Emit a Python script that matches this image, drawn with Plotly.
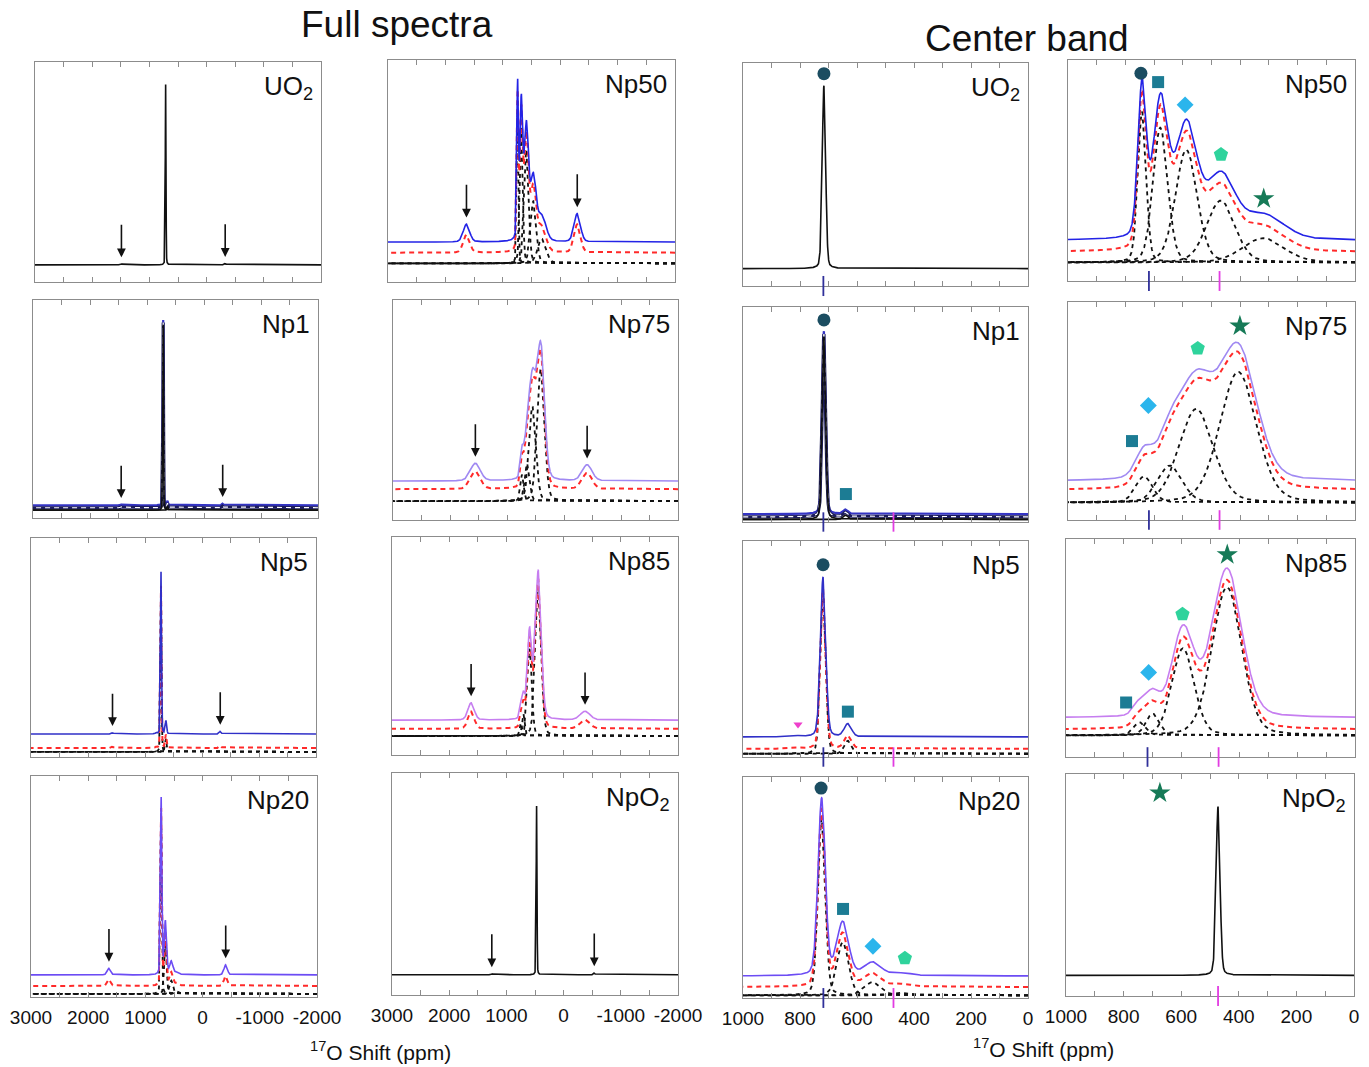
import numpy as np
import plotly.graph_objects as go

W, H = 1369, 1067

# ---------------- axis ticks ----------------
FULL_TICKVALS = [3000, 2000, 1000, 0, -1000, -2000]
FULL_TICKTEXT = ["3000", "2000", "1000", "0", "-1000", "-2000"]
FULL_MINOR = [2500, 1500, 500, -500, -1500]
CB_TICKVALS = [1000, 800, 600, 400, 200, 0]
CB_TICKTEXT = ["1000", "800", "600", "400", "200", "0"]
CB_MINOR = [900, 700, 500, 300, 100]

SAMPLES = ["UO2", "Np1", "Np5", "Np20", "Np50", "Np75", "Np85", "NpO2"]
SAMPLE_LABELS = ["UO<sub>2</sub>", "Np1", "Np5", "Np20", "Np50", "Np75", "Np85", "NpO<sub>2</sub>"]

# ---------------- center-band components: shift (ppm), normalised intensity, FWHM (ppm) ----------------
UO2_POS, UO2_AMP, UO2_FWHM = [716], [0.82], [14]
NP1_POS, NP1_AMP, NP1_FWHM = [716, 640], [0.85, 0.02], [14, 20]
NP5_POS, NP5_AMP, NP5_FWHM = [719, 632, 807], [0.74, 0.06, 0.004], [22, 30, 30]
NP20_POS, NP20_AMP, NP20_FWHM = [724, 650, 545, 440], [0.80, 0.24, 0.06, 0.012], [30, 48, 70, 80]
NP50_POS, NP50_AMP, NP50_FWHM = [742, 678, 588, 468, 320], [0.68, 0.61, 0.51, 0.28, 0.11], [34, 60, 88, 115, 170]
NP75_POS, NP75_AMP, NP75_FWHM = [735, 645, 553, 407], [0.12, 0.17, 0.43, 0.60], [70, 100, 140, 150]
NP85_POS, NP85_AMP, NP85_FWHM = [745, 700, 595, 443], [0.06, 0.10, 0.40, 0.68], [50, 55, 90, 120]
NPO2_POS, NPO2_AMP, NPO2_FWHM = [472], [0.76], [16]

# ---------------- spinning sidebands (full spectra, marked by arrows) ----------------
UO2_SB_POS, UO2_SB_AMP, UO2_SB_FWHM = [1489, -325], [0.004, 0.006], [30, 30]
NP1_SB_POS, NP1_SB_AMP, NP1_SB_FWHM = [1453, -328], [0.004, 0.008], [30, 30]
NP5_SB_POS, NP5_SB_AMP, NP5_SB_FWHM = [1570, -320], [0.006, 0.012], [40, 40]
NP20_SB_POS, NP20_SB_AMP, NP20_SB_FWHM = [1637, -404], [0.03, 0.045], [70, 70]
NP50_SB_POS, NP50_SB_AMP, NP50_SB_FWHM = [1633, -297], [0.08, 0.127], [130, 130]
NP75_SB_POS, NP75_SB_AMP, NP75_SB_FWHM = [1555, -406], [0.08, 0.073], [200, 200]
NP85_SB_POS, NP85_SB_AMP, NP85_SB_FWHM = [1617, -375], [0.079, 0.04], [130, 200]
NPO2_SB_POS, NPO2_SB_AMP, NPO2_SB_FWHM = [1255, -536], [0.004, 0.008], [30, 30]

# ---------------- stacking offsets (experimental, fit, components) ----------------
FULL_BASE_EXP = [0.078, 0.058, 0.105, 0.100, 0.180, 0.177, 0.160, 0.091]
FULL_BASE_FIT = [None, 0.047, 0.041, 0.050, 0.132, 0.140, 0.120, None]
FULL_BASE_CMP = [None, 0.036, 0.023, 0.014, 0.084, 0.086, 0.087, None]
CB_BASE_EXP = [0.078, 0.037, 0.093, 0.100, 0.184, 0.178, 0.180, 0.093]
CB_BASE_FIT = [None, 0.024, 0.038, 0.050, 0.132, 0.137, 0.126, None]
CB_BASE_CMP = [None, 0.012, 0.015, 0.012, 0.084, 0.080, 0.099, None]

# ---------------- site markers on the center band ----------------
UO2_MK_SYM, UO2_MK_PPM, UO2_MK_INT = ["circle"], [716], [0.952]
NP1_MK_SYM, NP1_MK_PPM, NP1_MK_INT = ["circle", "square"], [716, 639], [0.94, 0.13]
NP5_MK_SYM, NP5_MK_PPM, NP5_MK_INT = ["circle", "square", "triangle-down"], [719, 632, 807], [0.89, 0.21, 0.15]
NP20_MK_SYM = ["circle", "square", "diamond", "pentagon"]
NP20_MK_PPM, NP20_MK_INT = [726, 649, 544, 432], [0.95, 0.403, 0.234, 0.18]
NP50_MK_SYM = ["circle", "square", "diamond", "pentagon", "star"]
NP50_MK_PPM, NP50_MK_INT = [746, 686, 592, 467, 318], [0.94, 0.90, 0.797, 0.572, 0.372]
NP75_MK_SYM = ["square", "diamond", "pentagon", "star"]
NP75_MK_PPM, NP75_MK_INT = [777, 720, 548, 401], [0.362, 0.525, 0.787, 0.89]
NP85_MK_SYM = ["square", "diamond", "pentagon", "star"]
NP85_MK_PPM, NP85_MK_INT = [792, 714, 597, 442], [0.25, 0.388, 0.655, 0.928]
NPO2_MK_SYM, NPO2_MK_PPM, NPO2_MK_INT = ["star"], [674], [0.915]

# reference shifts marked under the center band
REF_SHIFT_BLUE = 718
REF_SHIFT_MAGENTA = 472
CB_REF_MARKS = [["b"], ["b", "m"], ["b", "m"], ["b", "m"], ["b", "m"], ["b", "m"], ["b", "m"], ["m"]]

# ---------------- styles ----------------
EXP_COLORS = ["#111111", "#3434c4", "#3030c8", "#6c4cf4", "#2323e6", "#a089f2", "#c67ef0", "#111111"]
FIT_COLOR = "#ff2a2a"
CMP_COLOR = "#111111"
MK_COLORS = {"circle": "#1b4d61", "square": "#1c7c94", "diamond": "#2bb5ec",
             "pentagon": "#2fd39c", "star": "#167a57", "triangle-down": "#ee3fcb"}
MK_SIZES = {"circle": 13, "square": 12, "diamond": 13, "pentagon": 15, "star": 16, "triangle-down": 8}
REF_COLORS = {"b": "#30309a", "m": "#e23ce2"}
FONT = "Liberation Sans, Arial, sans-serif"
FRAME = "#8c8c8c"
ETA = 0.2

# panel boxes in pixels (left, right, top, bottom)
FULL_BOXES = [(35, 321, 62, 282), (33, 318, 300, 518), (31, 316, 538, 757), (31, 317, 776, 997),
              (388, 675, 60, 282), (393, 678, 300, 520), (392, 678, 537, 755), (392, 678, 773, 995)]
CB_BOXES = [(743, 1028, 63, 286), (743, 1028, 307, 522), (743, 1028, 541, 757), (743, 1028, 777, 998),
            (1068, 1355, 60, 281), (1068, 1355, 302, 520), (1066, 1355, 539, 757), (1066, 1354, 774, 996)]
BOTTOM_ROW = {"Np20", "NpO2"}

DATA = {
    "UO2": (UO2_POS, UO2_AMP, UO2_FWHM, UO2_SB_POS, UO2_SB_AMP, UO2_SB_FWHM, UO2_MK_SYM, UO2_MK_PPM, UO2_MK_INT),
    "Np1": (NP1_POS, NP1_AMP, NP1_FWHM, NP1_SB_POS, NP1_SB_AMP, NP1_SB_FWHM, NP1_MK_SYM, NP1_MK_PPM, NP1_MK_INT),
    "Np5": (NP5_POS, NP5_AMP, NP5_FWHM, NP5_SB_POS, NP5_SB_AMP, NP5_SB_FWHM, NP5_MK_SYM, NP5_MK_PPM, NP5_MK_INT),
    "Np20": (NP20_POS, NP20_AMP, NP20_FWHM, NP20_SB_POS, NP20_SB_AMP, NP20_SB_FWHM, NP20_MK_SYM, NP20_MK_PPM, NP20_MK_INT),
    "Np50": (NP50_POS, NP50_AMP, NP50_FWHM, NP50_SB_POS, NP50_SB_AMP, NP50_SB_FWHM, NP50_MK_SYM, NP50_MK_PPM, NP50_MK_INT),
    "Np75": (NP75_POS, NP75_AMP, NP75_FWHM, NP75_SB_POS, NP75_SB_AMP, NP75_SB_FWHM, NP75_MK_SYM, NP75_MK_PPM, NP75_MK_INT),
    "Np85": (NP85_POS, NP85_AMP, NP85_FWHM, NP85_SB_POS, NP85_SB_AMP, NP85_SB_FWHM, NP85_MK_SYM, NP85_MK_PPM, NP85_MK_INT),
    "NpO2": (NPO2_POS, NPO2_AMP, NPO2_FWHM, NPO2_SB_POS, NPO2_SB_AMP, NPO2_SB_FWHM, NPO2_MK_SYM, NPO2_MK_PPM, NPO2_MK_INT),
}

XF = np.linspace(-2000, 3000, 5001)
XC = np.linspace(0, 1000, 2001)


def profile(x, pos, amp, fwhm):
    y = np.zeros_like(x)
    for p, a, w in zip(pos, amp, fwhm):
        d = (x - p) / w
        y += a * ((1 - ETA) * np.exp(-4 * np.log(2) * d * d) + ETA / (1 + 4 * d * d))
    return y


fig = go.Figure()
layout = {}
annotations = []
shapes = []


def ax_names(n):
    s = "" if n == 1 else str(n)
    return "x" + s, "y" + s, "xaxis" + s, "yaxis" + s


def add_panel(n, kind, si, box):
    name = SAMPLES[si]
    pos, amp, fwhm, sbp, sba, sbw, msym, mppm, mint = DATA[name]
    xr, yr, xk, yk = ax_names(n)
    left, right, top, bottom = box
    full = kind == "full"
    grid = XF if full else XC
    spec = profile(grid, pos, amp, fwhm)
    if full:
        spec = spec + profile(grid, sbp, sba, sbw)
    be = (FULL_BASE_EXP if full else CB_BASE_EXP)[si]
    bf = (FULL_BASE_FIT if full else CB_BASE_FIT)[si]
    bc = (FULL_BASE_CMP if full else CB_BASE_CMP)[si]
    col = EXP_COLORS[si]
    common = dict(xaxis=xr, yaxis=yr, hoverinfo="skip", showlegend=False, mode="lines")

    if name == "Np1":
        fig.add_trace(go.Scatter(x=grid, y=be + spec, line=dict(color=col, width=2.2), **common))
        fig.add_trace(go.Scatter(x=grid, y=bf + spec, line=dict(color="#1c1c5c", width=3.2), **common))
        fig.add_trace(go.Scatter(x=grid, y=bf + spec, line=dict(color="white", width=1.2, dash="5px,4px"), **common))
        for p, a, w in zip(pos, amp, fwhm):
            fig.add_trace(go.Scatter(x=grid, y=bc + profile(grid, [p], [a], [w]),
                                     line=dict(color=CMP_COLOR, width=1.6), **common))
    else:
        if bc is not None:
            for p, a, w in zip(pos, amp, fwhm):
                fig.add_trace(go.Scatter(x=grid, y=bc + profile(grid, [p], [a], [w]),
                                         line=dict(color=CMP_COLOR, width=1.8, dash="4px,4px"), **common))
        if bf is not None:
            fig.add_trace(go.Scatter(x=grid, y=bf + spec,
                                     line=dict(color=FIT_COLOR, width=2, dash="5px,4px"), **common))
        fig.add_trace(go.Scatter(x=grid, y=be + spec, line=dict(color=col, width=1.6), **common))

    if full:
        # arrows over the spinning sidebands
        for p, a in zip(sbp, sba):
            tip = be + a + 0.03
            annotations.append(dict(x=p, y=tip, ax=p, ay=tip + 0.155, xref=xr, yref=yr,
                                    axref=xr, ayref=yr, showarrow=True, arrowhead=2,
                                    arrowsize=1.1, arrowwidth=1.6, arrowcolor="#111111",
                                    text="", standoff=0))
    else:
        for s, xm, ym in zip(msym, mppm, mint):
            fig.add_trace(go.Scatter(x=[xm], y=[ym], xaxis=xr, yaxis=yr, mode="markers",
                                     marker=dict(symbol=s, size=MK_SIZES[s], color=MK_COLORS[s],
                                                 line=dict(width=0)),
                                     hoverinfo="skip", showlegend=False))
        for r in CB_REF_MARKS[si]:
            xv = REF_SHIFT_BLUE if r == "b" else REF_SHIFT_MAGENTA
            shapes.append(dict(type="line", xref=xr, yref=yr + " domain", x0=xv, x1=xv,
                               y0=-0.045, y1=0.045, line=dict(color=REF_COLORS[r], width=1.8)))

    bottom_row = name in BOTTOM_ROW
    layout[xk] = dict(
        domain=[left / W, right / W], anchor=yr, automargin=False,
        range=[3000, -2000] if full else [1000, 0],
        tickvals=FULL_TICKVALS if full else CB_TICKVALS,
        ticktext=FULL_TICKTEXT if full else CB_TICKTEXT,
        minor=dict(tickvals=FULL_MINOR if full else CB_MINOR, ticks="inside", ticklen=5,
                   tickwidth=1, tickcolor=FRAME, showgrid=False),
        showticklabels=bottom_row, tickangle=0, ticks="inside", ticklen=5, tickwidth=1,
        tickcolor=FRAME, showline=True, linecolor=FRAME, linewidth=1.4, mirror="ticks",
        showgrid=False, zeroline=False, tickfont=dict(family=FONT, size=19, color="#111111"),
        ticklabelstandoff=3,
    )
    layout[yk] = dict(
        domain=[1 - bottom / H, 1 - top / H], anchor=xr, range=[0, 1], automargin=False,
        showticklabels=False, ticks="", showline=True, linecolor=FRAME, linewidth=1.4,
        mirror=True, showgrid=False, zeroline=False,
    )
    annotations.append(dict(text=SAMPLE_LABELS[si], xref=xr + " domain", yref=yr + " domain",
                            x=1 - 6 / (right - left), y=1 - 7 / (bottom - top),
                            xanchor="right", yanchor="top", showarrow=False,
                            font=dict(family=FONT, size=26, color="#111111")))


n = 1
for si in range(8):
    add_panel(n, "full", si, FULL_BOXES[si])
    n += 1
for si in range(8):
    add_panel(n, "center", si, CB_BOXES[si])
    n += 1

annotations += [
    dict(text="Full spectra", x=397 / W, y=1 - 24 / H, xref="paper", yref="paper",
         showarrow=False, xanchor="center", yanchor="middle",
         font=dict(family=FONT, size=37, color="#111111")),
    dict(text="Center band", x=1027 / W, y=1 - 38 / H, xref="paper", yref="paper",
         showarrow=False, xanchor="center", yanchor="middle",
         font=dict(family=FONT, size=37, color="#111111")),
    dict(text="<sup>17</sup>O Shift (ppm)", x=380 / W, y=1 - 1051 / H, xref="paper", yref="paper",
         showarrow=False, xanchor="center", yanchor="middle",
         font=dict(family=FONT, size=21, color="#111111")),
    dict(text="<sup>17</sup>O Shift (ppm)", x=1043 / W, y=1 - 1048 / H, xref="paper", yref="paper",
         showarrow=False, xanchor="center", yanchor="middle",
         font=dict(family=FONT, size=21, color="#111111")),
]

fig.update_layout(
    width=W, height=H, margin=dict(l=0, r=0, t=0, b=0, autoexpand=False),
    paper_bgcolor="white", plot_bgcolor="white", showlegend=False,
    annotations=annotations, shapes=shapes, **layout,
)

fig.write_html("out.html", config={"displayModeBar": False},
               post_script="document.body.style.margin='0px';document.body.style.overflow='hidden';")
